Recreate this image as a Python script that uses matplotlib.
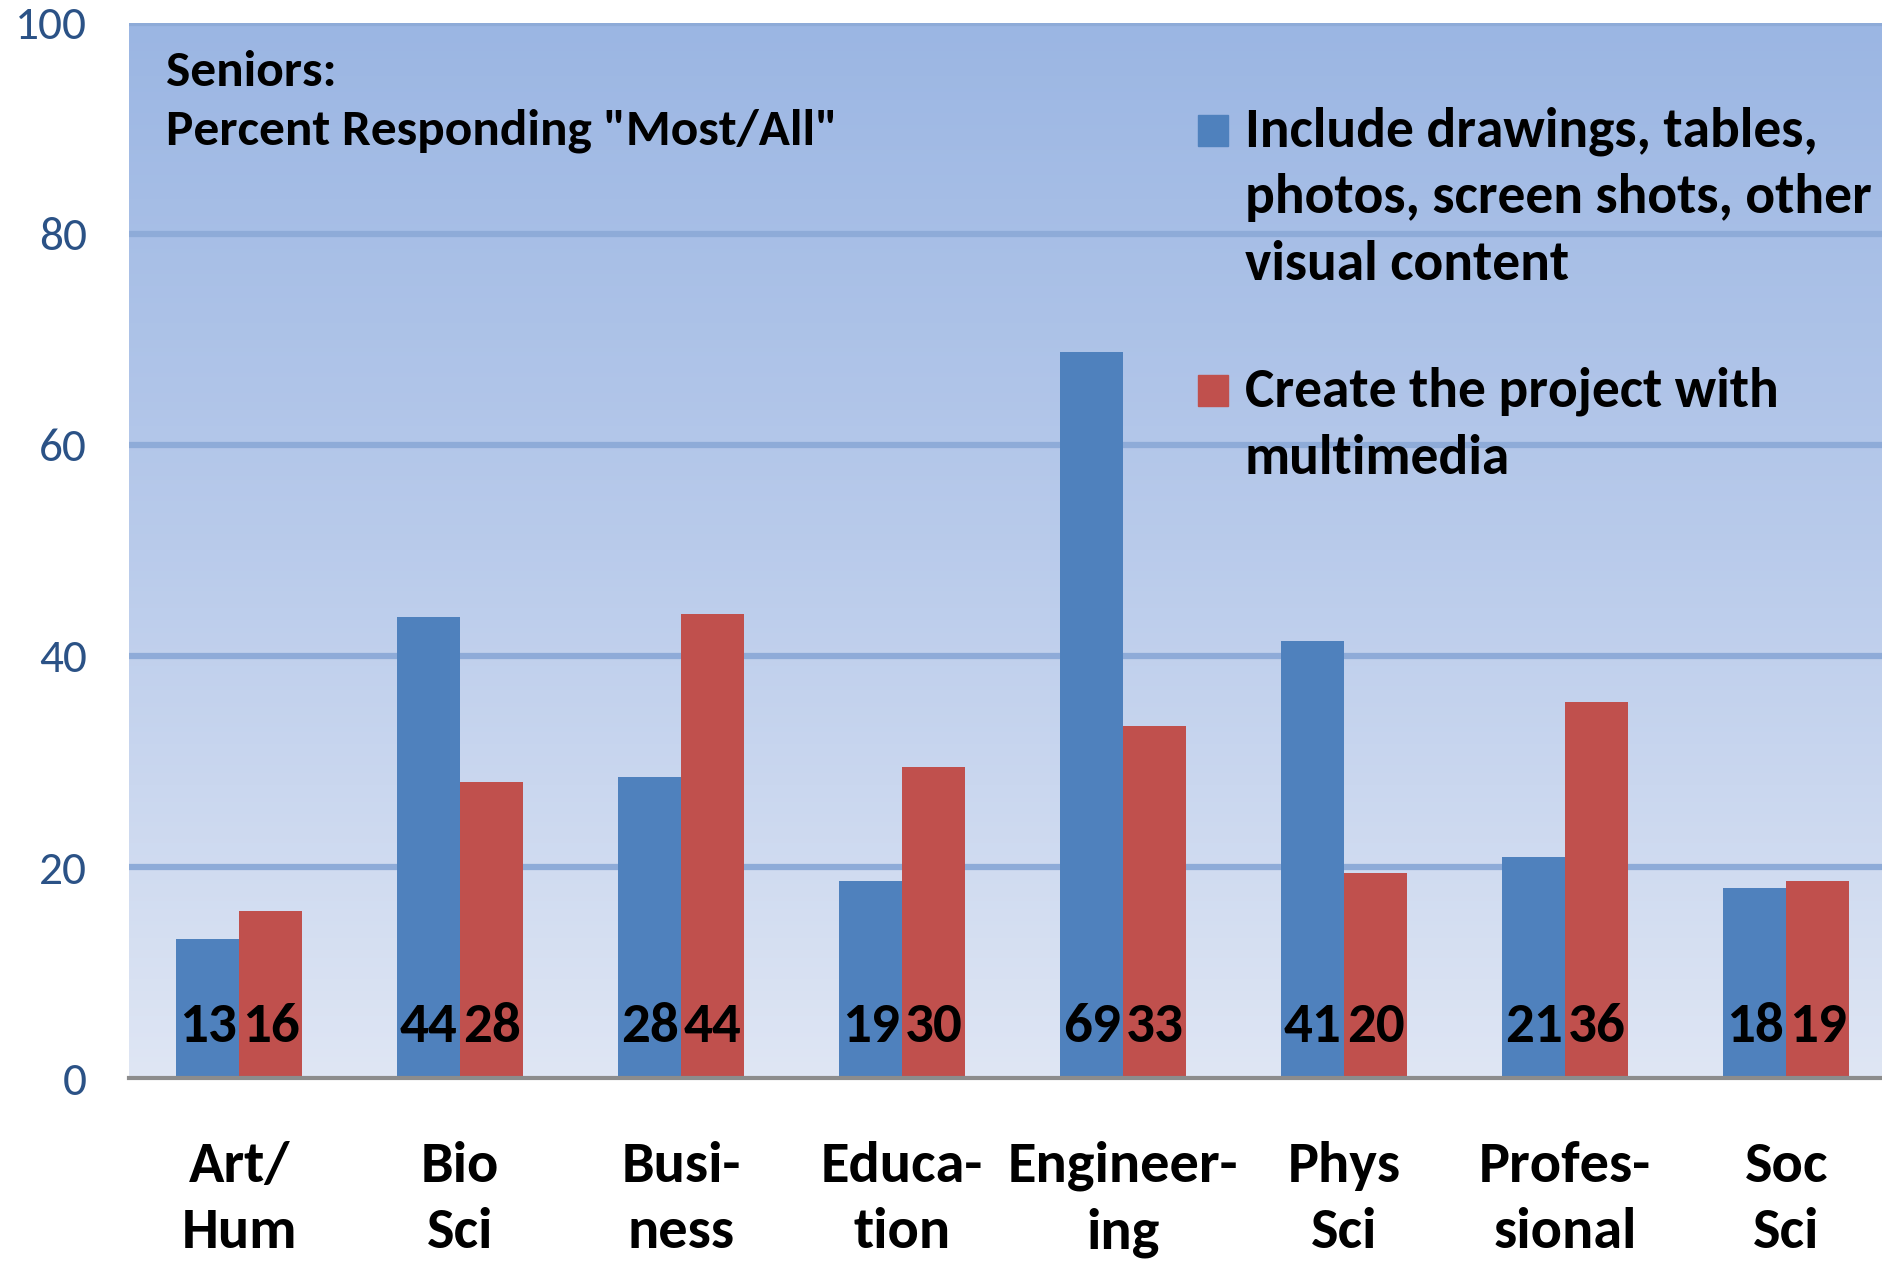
import numpy as np
import matplotlib
matplotlib.use("Agg")
from matplotlib import pyplot as plt
from matplotlib.colors import LinearSegmentedColormap

categories = ["Art/\nHum", "Bio\nSci", "Busi-\nness", "Educa-\ntion", "Engineer-\ning", "Phys\nSci", "Profes-\nsional", "Soc\nSci"]
include_visual = [13.2, 43.7, 28.5, 18.7, 68.8, 41.4, 21.0, 18.0]
multimedia = [15.8, 28.1, 44.0, 29.5, 33.4, 19.4, 35.6, 18.7]
include_labels = [13, 44, 28, 19, 69, 41, 21, 18]
multimedia_labels = [16, 28, 44, 30, 33, 20, 36, 19]
series_names = ["Include drawings, tables,\nphotos, screen shots, other\nvisual content",
                "Create the project with\nmultimedia"]
yticks = [0, 20, 40, 60, 80, 100]

# Carlito = Calibri metrics; condensed DejaVu as backup
plt.rcParams['font.family'] = ['Carlito', 'DejaVu Sans']
plt.rcParams['font.stretch'] = 'condensed'

fig = plt.figure(figsize=(18.83, 12.61), dpi=100)
ax = fig.add_axes([0.0683, 0.145, 0.939, 0.837])

x = np.arange(len(categories))
w = 0.285

# gradient background of the plot area
grad = LinearSegmentedColormap.from_list("bg", ["#dfe6f4", "#b9cbeb", "#9bb6e3"])
ax.imshow(np.linspace(0, 1, 256).reshape(-1, 1), cmap=grad, origin="lower",
          extent=[-0.5, 7.5, 0, 100], aspect="auto", zorder=0)

for yv in yticks[1:]:
    ax.axhline(yv, color="#8eabd8", lw=4.5, zorder=1)

ax.bar(x - w / 2, include_visual, w, color="#4f81bd", zorder=2)
ax.bar(x + w / 2, multimedia, w, color="#c0504d", zorder=2)

for i in range(len(categories)):
    ax.text(x[i] - w / 2, 4.9, str(include_labels[i]), ha="center", va="center",
            fontsize=41, fontweight="bold", color="black", zorder=3)
    ax.text(x[i] + w / 2, 4.9, str(multimedia_labels[i]), ha="center", va="center",
            fontsize=41, fontweight="bold", color="black", zorder=3)

ax.set_xlim(-0.5, 7.5)
ax.set_ylim(0, 100)
ax.set_yticks(yticks)
ax.set_yticklabels([str(v) for v in yticks], fontsize=34, color="#2b5286")
ax.set_xticks(x)
ax.set_xticklabels(categories, fontsize=42, fontweight="bold", linespacing=1.4)
ax.tick_params(axis="y", length=0, pad=30)
ax.tick_params(axis="x", length=0, pad=45)
for s in ["top", "right", "left"]:
    ax.spines[s].set_visible(False)
ax.spines["bottom"].set_color("#8c8c8c")
ax.spines["bottom"].set_linewidth(3)
ax.spines["bottom"].set_zorder(4)

# title inside the plot
fig.text(166 / 1883, 1 - 50 / 1261, 'Seniors:\nPercent Responding "Most/All"',
         ha="left", va="top", fontsize=37, fontweight="bold", linespacing=1.4)

# legend drawn manually as squares and text
fig.patches.append(plt.Rectangle((1198 / 1883, 1 - 146 / 1261), 30 / 1883, 31 / 1261,
                                 transform=fig.transFigure, color="#4f81bd"))
fig.text(1245 / 1883, 1 - 106 / 1261, series_names[0], ha="left", va="top",
         fontsize=40, fontweight="bold", linespacing=1.45)
fig.patches.append(plt.Rectangle((1198 / 1883, 1 - 406 / 1261), 30 / 1883, 31 / 1261,
                                 transform=fig.transFigure, color="#c0504d"))
fig.text(1245 / 1883, 1 - 366 / 1261, series_names[1], ha="left", va="top",
         fontsize=40, fontweight="bold", linespacing=1.45)

fig.savefig("out.png", dpi=100)
